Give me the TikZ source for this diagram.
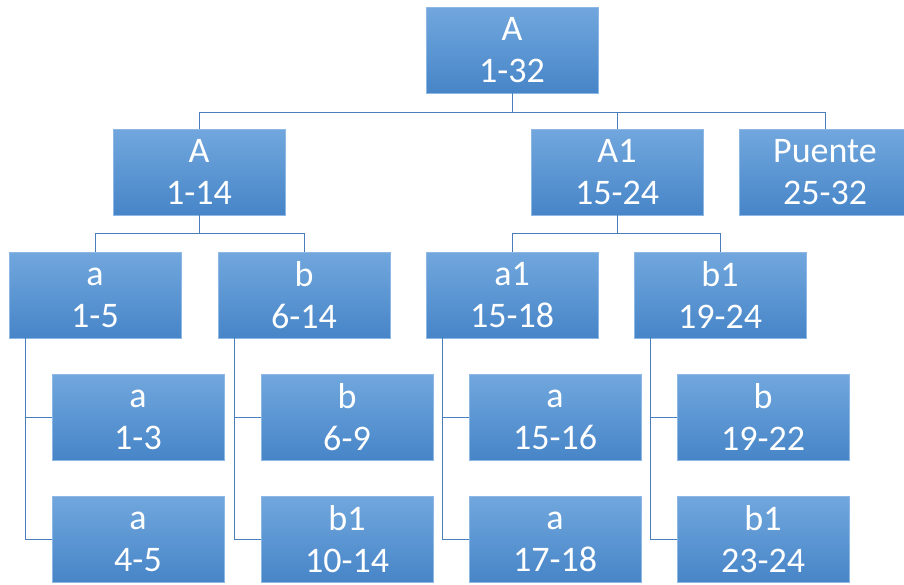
\documentclass[tikz,border=0pt]{standalone}
\usepackage{fontspec}
\setmainfont{Carlito}
\definecolor{boxtop}{HTML}{71A7DD}
\definecolor{boxbot}{HTML}{4785C8}
\definecolor{boxline}{HTML}{8DB8E6}
\definecolor{linkcol}{HTML}{4A7EBB}
\newcommand{\twoline}[2]{\vphantom{A}#1\\#2}

\begin{document}
\begin{tikzpicture}[x=1pt,y=-1pt,
  box/.style={draw=boxline, line width=0.8pt, top color=boxtop, bottom color=boxbot,
    minimum width=172pt, minimum height=86pt, inner sep=0pt, align=center,
    text=white, font=\fontsize{36}{42}\selectfont},
  link/.style={draw=linkcol, line width=0.9pt}]
  \useasboundingbox (0,0) rectangle (904,584);

  % top
  \node[box] (root) at (512,50) {\twoline{A}{1-32}};

  % second level
  \node[box] (nA) at (199,172) {\twoline{A}{1-14}};
  \node[box] (nAone) at (617,172) {\twoline{A1}{15-24}};
  \node[box] (puente) at (825,172) {\twoline{Puente}{25-32}};

  % third level
  \node[box] (a15) at (95,295) {\twoline{a}{1-5}};
  \node[box] (b614) at (304,295) {\twoline{b}{6-14}};
  \node[box] (aone1518) at (512,295) {\twoline{a1}{15-18}};
  \node[box] (bone1924) at (720,295) {\twoline{b1}{19-24}};

  % fourth level
  \node[box] (a13) at (138,417) {\twoline{a}{1-3}};
  \node[box] (a45) at (138,539) {\twoline{a}{4-5}};
  \node[box] (b69) at (347,417) {\twoline{b}{6-9}};
  \node[box] (bone1014) at (347,539) {\twoline{b1}{10-14}};
  \node[box] (a1516) at (555,417) {\twoline{a}{15-16}};
  \node[box] (a1718) at (555,539) {\twoline{a}{17-18}};
  \node[box] (b1922) at (763,417) {\twoline{b}{19-22}};
  \node[box] (bone2324) at (763,539) {\twoline{b1}{23-24}};

  % links
  \draw[link] (root.south) -- ++(0,19) -| (nA.north);
  \draw[link] (root.south) -- ++(0,19) -| (nAone.north);
  \draw[link] (root.south) -- ++(0,19) -| (puente.north);

  \draw[link] (nA.south) -- ++(0,18) -| (a15.north);
  \draw[link] (nA.south) -- ++(0,18) -| (b614.north);
  \draw[link] (nAone.south) -- ++(0,18) -| (aone1518.north);
  \draw[link] (nAone.south) -- ++(0,18) -| (bone1924.north);

  \draw[link] ([xshift=17pt]a15.south west) |- (a13.west);
  \draw[link] ([xshift=17pt]a15.south west) |- (a45.west);
  \draw[link] ([xshift=17pt]b614.south west) |- (b69.west);
  \draw[link] ([xshift=17pt]b614.south west) |- (bone1014.west);
  \draw[link] ([xshift=17pt]aone1518.south west) |- (a1516.west);
  \draw[link] ([xshift=17pt]aone1518.south west) |- (a1718.west);
  \draw[link] ([xshift=17pt]bone1924.south west) |- (b1922.west);
  \draw[link] ([xshift=17pt]bone1924.south west) |- (bone2324.west);
\end{tikzpicture}
\end{document}
